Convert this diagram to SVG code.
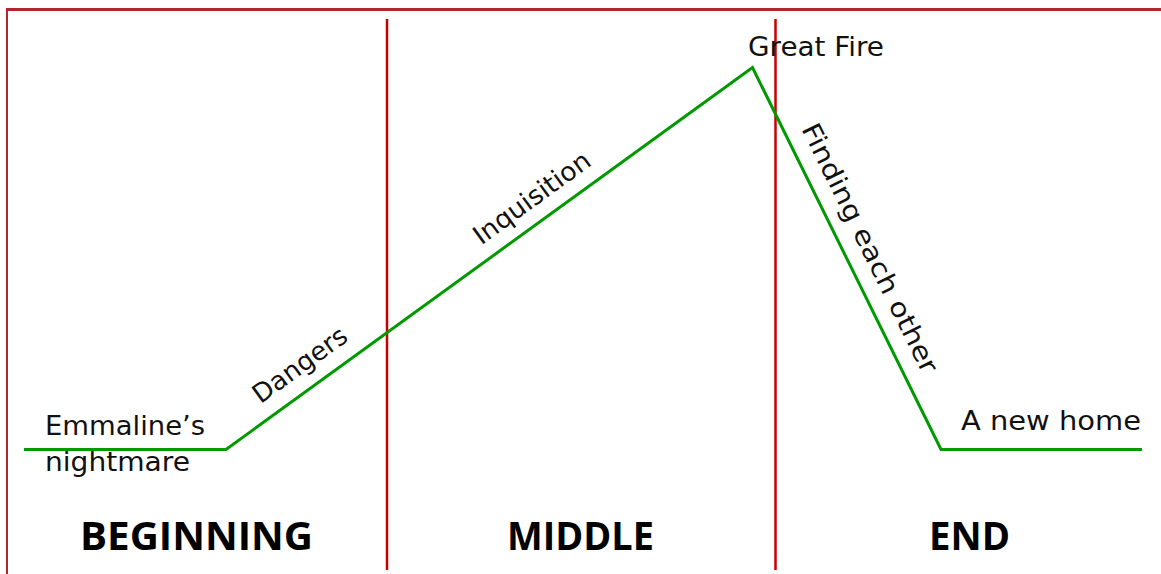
<svg xmlns="http://www.w3.org/2000/svg" width="1161" height="574" viewBox="0 0 1161 574">
<style>
.lbl{font-family:"DejaVu Sans","Liberation Sans",sans-serif;font-size:26px;fill:#111}
.big{font-family:"Open Sans","Liberation Sans",sans-serif;font-weight:700;font-size:40px;fill:#000}
.border{stroke:#b3262a;fill:none}
.div{stroke:#c80000;stroke-width:2.5;fill:none}
.plot{stroke:#009a00;stroke-width:3;fill:none;stroke-linejoin:miter}
</style>
<rect width="1161" height="574" fill="#fff"/>
<g id="frame">
<line class="border" x1="6" y1="9.5" x2="1161" y2="9.5" stroke-width="3"/>
<line class="border" x1="7" y1="8" x2="7" y2="574" stroke-width="2"/>
<line class="div" x1="387" y1="19" x2="387" y2="570"/>
<line class="div" x1="775.5" y1="19" x2="775.5" y2="570"/>
</g>
<g id="connectors">
<polyline class="plot" points="24,449.5 226,449.5 752.5,67.5 941,449.5 1142,449.5"/>
</g>
<g id="emmaline">
<text class="lbl" x="45" y="435" textLength="160" lengthAdjust="spacingAndGlyphs">Emmaline’s</text>
<text class="lbl" x="45" y="471" textLength="145" lengthAdjust="spacingAndGlyphs">nightmare</text>
</g>
<g id="dangers">
<text class="lbl" text-anchor="middle" transform="translate(305,372) rotate(-36)" textLength="110" lengthAdjust="spacingAndGlyphs">Dangers</text>
</g>
<g id="inquisition">
<text class="lbl" text-anchor="middle" transform="translate(537,205) rotate(-36)" textLength="138" lengthAdjust="spacingAndGlyphs">Inquisition</text>
</g>
<g id="great-fire">
<text class="lbl" x="748" y="56" textLength="136" lengthAdjust="spacingAndGlyphs">Great Fire</text>
</g>
<g id="finding">
<text class="lbl" text-anchor="middle" transform="translate(862,252) rotate(63.7)" textLength="275" lengthAdjust="spacingAndGlyphs">Finding each other</text>
</g>
<g id="new-home">
<text class="lbl" x="961" y="430" textLength="180" lengthAdjust="spacingAndGlyphs">A new home</text>
</g>
<g id="beginning">
<text class="big" x="80" y="550" textLength="233" lengthAdjust="spacingAndGlyphs">BEGINNING</text>
</g>
<g id="middle">
<text class="big" x="507" y="550" textLength="147" lengthAdjust="spacingAndGlyphs">MIDDLE</text>
</g>
<g id="end">
<text class="big" x="929" y="550" textLength="81" lengthAdjust="spacingAndGlyphs">END</text>
</g>
</svg>
